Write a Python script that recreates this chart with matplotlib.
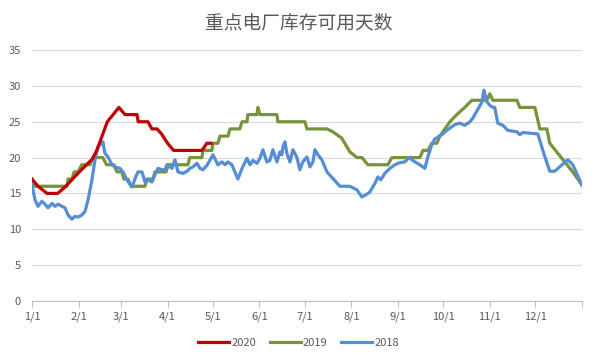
import numpy as np
import matplotlib.pyplot as plt

plt.rcParams['font.family'] = ['Noto Sans CJK SC', 'DejaVu Sans']

# day of year (0 = 1/1) and value for each series
days_2020 = [0, 4, 10, 17, 22, 30, 40, 43, 50, 57.7, 61.7, 69.7, 70.5, 77, 79.6, 83, 86, 90, 94, 112.8, 114.5, 116, 118.8]
vals_2020 = [17, 16, 15, 15, 15.9, 17.7, 19.8, 21, 25, 27, 26, 26, 25, 25, 24, 24, 23.3, 22, 21, 21, 21.5, 22, 22]

days_2019 = [0, 2, 23.2, 24, 26.5, 28, 30.5, 33, 38.5, 40.5, 47, 49.5, 54.4, 56.4, 59.7, 61, 63.7, 65.7, 75, 76.3,
             80.3, 81.6, 89, 90.3, 103.5, 104.8, 112.8, 113.5, 119.4, 120.1, 123.4, 124.8, 130.1, 131.4, 138, 139.4,
             142.7, 143.3, 149.3, 150, 151.3, 162.6, 163.2, 181.2, 182.5, 195.8, 199.7, 205.7, 211, 215.7, 219, 223,
             236.2, 238.9, 257.5, 259.5, 262.8, 265.4, 268.8, 270.7, 274.1, 277.4, 282, 287.3, 292, 301.9, 303.9,
             305.9, 321.9, 323.8, 333.8, 337.1, 341.8, 343.7, 359, 365]
vals_2019 = [17, 16, 16, 17, 17, 18, 18, 19, 19, 20, 20, 19, 19, 18, 18, 17, 17, 16, 16, 17,
             17, 18, 18, 19, 19, 20, 20, 21, 21, 22, 22, 23, 23, 24, 24, 25,
             25, 26, 26, 27, 26, 26, 25, 25, 24, 24, 23.6, 22.7, 20.8, 20, 20, 19,
             19, 20, 20, 21, 21, 22, 22, 23, 24, 25, 26, 27, 28, 28, 28.9,
             28, 28, 27, 27, 24, 24, 22, 18, 16.2]

days_2018 = [0, 2, 4, 6.6, 8.6, 10.6, 13.3, 15.3, 17.3, 19.9, 21.9, 23.9, 26.5, 28.5, 30.5, 33.2, 35.2, 37.2,
             39.8, 41.8, 43.8, 47.1, 48.4, 50.4, 53.1, 55.1, 58.4, 60.4, 63, 66.4, 68.3, 70.3, 73, 75, 77, 79.6,
             81.6, 83.6, 86.3, 88.3, 89.6, 92.9, 94.9, 96.9, 100.2, 102.9, 104.8, 106.8, 109.5, 111.5, 113.5,
             116.1, 117.5, 120.1, 123.4, 126.1, 128.1, 130.1, 132.7, 134.7, 136.7, 139.4, 142.7, 144.7, 146.7,
             149.3, 151.3, 153.3, 155.9, 157.9, 159.9, 162.6, 164.6, 165.9, 166.6, 167.9, 169.2, 171.2, 173.2,
             175.9, 177.8, 179.8, 182.5, 184.5, 186.5, 187.8, 189.8, 192.4, 195.8, 199.7, 204.4, 211, 215.7,
             219, 222.3, 224.3, 227.6, 229.6, 231.6, 234.2, 237.6, 240.9, 244.2, 247.5, 250.2, 254.2, 257.5,
             260.8, 262.8, 265.4, 267.4, 272.1, 276, 280.7, 284, 287.3, 290.7, 292.6, 295.3, 298.6, 300,
             301.9, 303.9, 305.9, 307.2, 309.2, 312.6, 315.8, 321.9, 323.8, 325.8, 335.8, 339.7, 343.7, 347,
             355.7, 359, 365]
vals_2018 = [16.2, 14.1, 13.2, 13.9, 13.5, 13, 13.6, 13.2, 13.5, 13.2, 13, 12, 11.4, 11.8, 11.7, 12, 12.5, 14.1,
             16.9, 19.7, 21.5, 22.2, 20.6, 20.1, 19, 18.7, 18.5, 18, 16.9, 15.9, 17, 18, 18, 16.6, 16.9, 16.6,
             17.6, 18.5, 18.3, 18.3, 19, 18.5, 19.7, 18, 17.8, 18.1, 18.5, 18.7, 19.2, 18.5, 18.3,
             18.9, 19.4, 20.4, 19, 19.4, 19, 19.4, 19, 18, 17, 18.5, 19.9, 19, 19.6,
             19.2, 19.9, 21.1, 19.4, 19.6, 21.1, 19.4, 20.8, 20.4, 21.5, 22.2, 20.6, 19.4, 21.1,
             20, 18.3, 19.4, 20.1, 18.7, 19.4, 21.1, 20.4, 19.7, 18, 17.1, 16, 16, 15.5,
             14.5, 14.9, 15.2, 16.4, 17.3, 16.9, 17.8, 18.5, 19, 19.3, 19.4, 20, 19.4, 19,
             18.5, 20.1, 21.8, 22.6, 23.2, 23.9, 24.6, 24.8, 24.5, 25, 25.5, 26.5, 27.7, 29.4,
             27.8, 27.3, 27, 27, 24.8, 24.5, 23.8, 23.6, 23.2, 23.5, 23.3, 20.6, 18.1, 18.1,
             19.7, 19, 16.2]

tick_days = [0, 31, 59, 90, 120, 151, 181, 212, 243, 273, 304, 334]
tick_labels = ['1/1', '2/1', '3/1', '4/1', '5/1', '6/1', '7/1', '8/1', '9/1', '10/1', '11/1', '12/1']

fig = plt.figure(figsize=(5.97, 3.63), dpi=100)
ax = fig.add_axes([0.0536, 0.171, 0.921, 0.691])

ax.plot(days_2020, vals_2020, color='#C00000', lw=2.3, label='2020', zorder=3)
ax.plot(days_2019, vals_2019, color='#77933C', lw=2.3, label='2019', zorder=2)
ax.plot(days_2018, vals_2018, color='#558ED5', lw=2.3, label='2018', zorder=2)

ax.set_xlim(0, 365)
ax.set_ylim(0, 35)
ax.set_yticks(np.arange(0, 36, 5))
ax.set_xticks(tick_days + [365])
ax.set_xticklabels(tick_labels + [''])
ax.grid(axis='y', color='#d9d9d9', lw=0.8)
ax.set_axisbelow(True)
for s in ['top', 'right', 'left']:
    ax.spines[s].set_visible(False)
ax.spines['bottom'].set_color('#bfbfbf')
ax.tick_params(axis='y', length=0, labelsize=8, labelcolor='#595959', pad=8)
ax.tick_params(axis='x', length=4, color='#bfbfbf', labelsize=8, labelcolor='#595959')

fig.suptitle('重点电厂库存可用天数', x=0.5, y=0.965, fontsize=13.5, color='#595959', fontweight='light')
fig.legend(loc='lower center', bbox_to_anchor=(0.5, 0.015), ncol=3, frameon=False,
           fontsize=8, handlelength=2.8, handletextpad=0.2, columnspacing=1.2,
           labelcolor='#595959')

fig.savefig('out.png', dpi=100)
